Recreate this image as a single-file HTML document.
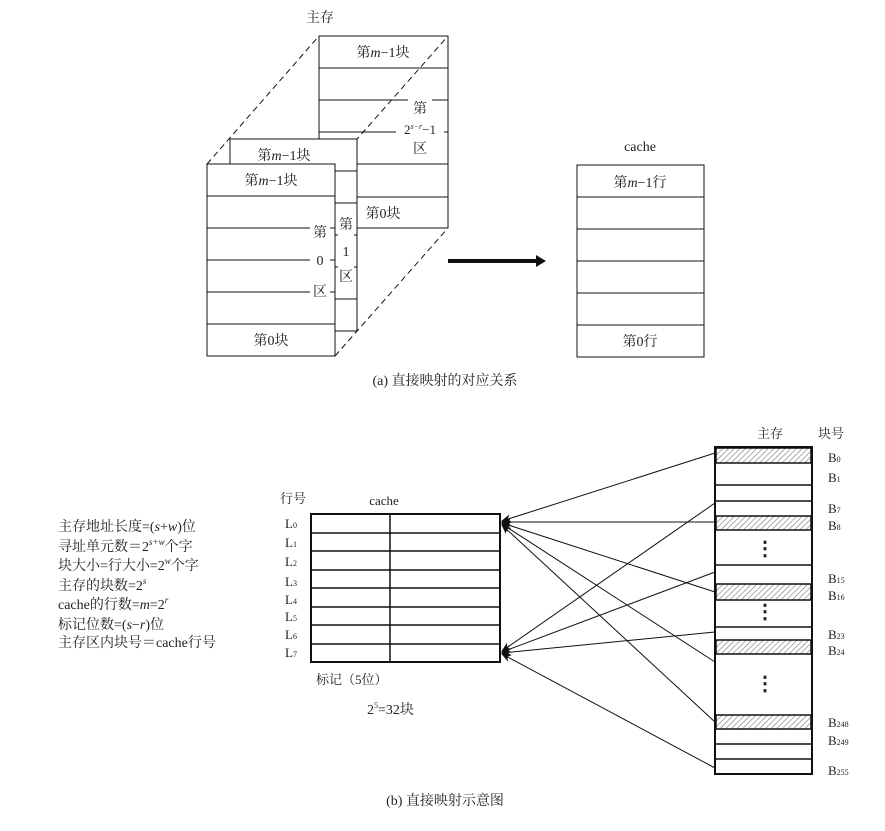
<!DOCTYPE html>
<html><head><meta charset="utf-8"><style>
body{margin:0;background:#fff}
svg text{font-family:"Liberation Serif","Noto Serif CJK SC","Noto Sans CJK SC",serif;fill:#222}
</style></head><body>
<svg width="885" height="826" viewBox="0 0 885 826" xmlns="http://www.w3.org/2000/svg">
<defs>
<pattern id="h" width="4" height="4" patternUnits="userSpaceOnUse" patternTransform="rotate(45)">
<rect width="4" height="4" fill="#fff"/><line x1="0" y1="0" x2="0" y2="4" stroke="#777" stroke-width="1.2"/></pattern>
<marker id="a" markerWidth="10" markerHeight="8" refX="9" refY="4" orient="auto" markerUnits="userSpaceOnUse">
<path d="M0,0 L10,4 L0,8 L3,4 z" fill="#111"/></marker>
</defs>
<g stroke="#111" fill="none" stroke-width="1">
<!-- back box -->
<rect x="319" y="36" width="129" height="192" fill="#fff"/>
<line x1="319" y1="68" x2="448" y2="68"/>
<line x1="319" y1="100" x2="408" y2="100"/><line x1="432" y1="100" x2="448" y2="100"/>
<line x1="319" y1="132" x2="396" y2="132"/><line x1="444" y1="132" x2="448" y2="132"/>
<line x1="319" y1="164" x2="448" y2="164"/>
<line x1="319" y1="197" x2="448" y2="197"/>
<!-- dashed -->
<g stroke-dasharray="6,4">
<line x1="207" y1="164" x2="319" y2="36"/>
<line x1="335" y1="164" x2="448" y2="36"/>
<line x1="335" y1="356" x2="448" y2="228"/>
</g>
<!-- middle box -->
<rect x="230" y="139" width="127" height="192" fill="#fff"/>
<line x1="335" y1="171" x2="357" y2="171"/><line x1="335" y1="203" x2="357" y2="203"/>
<line x1="335" y1="235" x2="338" y2="235"/><line x1="354" y1="235" x2="357" y2="235"/>
<line x1="335" y1="267" x2="338" y2="267"/><line x1="354" y1="267" x2="357" y2="267"/>
<line x1="335" y1="299" x2="357" y2="299"/>
<!-- front -->
<rect x="207" y="164" width="128" height="192" fill="#fff"/>
<line x1="207" y1="196" x2="335" y2="196"/>
<line x1="207" y1="228" x2="310" y2="228"/><line x1="330" y1="228" x2="335" y2="228"/>
<line x1="207" y1="260" x2="310" y2="260"/><line x1="330" y1="260" x2="335" y2="260"/>
<line x1="207" y1="292" x2="310" y2="292"/><line x1="330" y1="292" x2="335" y2="292"/>
<line x1="207" y1="324" x2="335" y2="324"/>
<!-- cache top -->
<rect x="577" y="165" width="127" height="192"/>
<line x1="577" y1="197" x2="704" y2="197"/><line x1="577" y1="229" x2="704" y2="229"/>
<line x1="577" y1="261" x2="704" y2="261"/><line x1="577" y1="293" x2="704" y2="293"/>
<line x1="577" y1="325" x2="704" y2="325"/>
</g>
<rect x="448" y="259" width="90" height="4" fill="#111"/>
<path d="M536,255 L546,261 L536,267 z" fill="#111"/>
<g font-size="14" text-anchor="middle">
<text x="320" y="22">主存</text>
<text x="383" y="57">第<tspan font-style="italic">m</tspan>−1块</text>
<text x="420" y="113">第</text>
<text x="420" y="134" font-size="13">2<tspan font-size="8" dy="-5" font-style="italic">s−r</tspan><tspan dy="5">−1</tspan></text>
<text x="420" y="153">区</text>
<text x="383" y="218">第0块</text>
<text x="284" y="160">第<tspan font-style="italic">m</tspan>−1块</text>
<text x="271" y="185">第<tspan font-style="italic">m</tspan>−1块</text>
<text x="320" y="237">第</text><text x="320" y="265">0</text><text x="320" y="296">区</text>
<text x="346" y="229">第</text><text x="346" y="256">1</text><text x="346" y="281">区</text>
<text x="271" y="345">第0块</text>
<text x="640" y="151">cache</text>
<text x="640" y="187">第<tspan font-style="italic">m</tspan>−1行</text>
<text x="640" y="346">第0行</text>
<text x="445" y="385">(a) 直接映射的对应关系</text>
<text x="445" y="805">(b) 直接映射示意图</text>
</g>
<!-- bottom cache -->
<g stroke="#111" fill="none">
<rect x="311" y="514" width="189" height="148" stroke-width="2"/>
<line x1="390" y1="514" x2="390" y2="662" stroke-width="1.5"/>
<g stroke-width="1.5">
<line x1="311" y1="533" x2="500" y2="533"/><line x1="311" y1="551" x2="500" y2="551"/>
<line x1="311" y1="570" x2="500" y2="570"/><line x1="311" y1="588" x2="500" y2="588"/>
<line x1="311" y1="607" x2="500" y2="607"/><line x1="311" y1="625" x2="500" y2="625"/>
<line x1="311" y1="644" x2="500" y2="644"/></g>
</g>
<g font-size="13">
<text x="280" y="503">行号</text>
<text x="384" y="505" text-anchor="middle">cache</text>
<text x="285" y="528">L<tspan font-size="8">0</tspan></text>
<text x="285" y="547">L<tspan font-size="8">1</tspan></text>
<text x="285" y="566">L<tspan font-size="8">2</tspan></text>
<text x="285" y="586">L<tspan font-size="8">3</tspan></text>
<text x="285" y="604">L<tspan font-size="8">4</tspan></text>
<text x="285" y="621">L<tspan font-size="8">5</tspan></text>
<text x="285" y="639">L<tspan font-size="8">6</tspan></text>
<text x="285" y="657">L<tspan font-size="8">7</tspan></text>
<text x="316" y="684">标记（5位）</text>
<text x="367" y="714" font-size="14">2<tspan font-size="8" dy="-6">5</tspan><tspan dy="6">=32块</tspan></text>
</g>
<g font-size="14">
<text x="58" y="531">主存地址长度=(<tspan font-style="italic">s</tspan>+<tspan font-style="italic">w</tspan>)位</text>
<text x="58" y="551">寻址单元数＝2<tspan font-size="9" dy="-6" font-style="italic">s+w</tspan><tspan dy="6">个字</tspan></text>
<text x="58" y="570">块大小=行大小=2<tspan font-size="9" dy="-6" font-style="italic">w</tspan><tspan dy="6">个字</tspan></text>
<text x="58" y="590">主存的块数=2<tspan font-size="9" dy="-6" font-style="italic">s</tspan></text>
<text x="58" y="609">cache的行数=<tspan font-style="italic">m</tspan>=2<tspan font-size="9" dy="-6" font-style="italic">r</tspan></text>
<text x="58" y="629">标记位数=(<tspan font-style="italic">s</tspan>−<tspan font-style="italic">r</tspan>)位</text>
<text x="58" y="647">主存区内块号＝cache行号</text>
</g>
<!-- memory -->
<g stroke="#111" stroke-width="1.5">
<rect x="715" y="447" width="97" height="327" fill="#fff" stroke-width="2"/>
<rect x="716" y="448" width="95" height="15" fill="url(#h)"/>
<rect x="716" y="516" width="95" height="14" fill="url(#h)"/>
<rect x="716" y="584" width="95" height="16" fill="url(#h)"/>
<rect x="716" y="640" width="95" height="14" fill="url(#h)"/>
<rect x="716" y="715" width="95" height="14" fill="url(#h)"/>
<line x1="715" y1="485" x2="812" y2="485"/><line x1="715" y1="501" x2="812" y2="501"/>
<line x1="715" y1="565" x2="812" y2="565"/><line x1="715" y1="627" x2="812" y2="627"/>
<line x1="715" y1="744" x2="812" y2="744"/><line x1="715" y1="759" x2="812" y2="759"/>
</g>
<g font-size="20" text-anchor="middle" font-weight="bold"><text x="765" y="555">⋮</text><text x="765" y="618">⋮</text><text x="765" y="690">⋮</text></g>
<g font-size="13">
<text x="757" y="438">主存</text><text x="818" y="438">块号</text>
<text x="828" y="462">B<tspan font-size="8">0</tspan></text>
<text x="828" y="482">B<tspan font-size="8">1</tspan></text>
<text x="828" y="513">B<tspan font-size="8">7</tspan></text>
<text x="828" y="530">B<tspan font-size="8">8</tspan></text>
<text x="828" y="583">B<tspan font-size="8">15</tspan></text>
<text x="828" y="600">B<tspan font-size="8">16</tspan></text>
<text x="828" y="639">B<tspan font-size="8">23</tspan></text>
<text x="828" y="655">B<tspan font-size="8">24</tspan></text>
<text x="828" y="727">B<tspan font-size="8">248</tspan></text>
<text x="828" y="745">B<tspan font-size="8">249</tspan></text>
<text x="828" y="775">B<tspan font-size="8">255</tspan></text>
</g>
<g stroke="#111" stroke-width="1" marker-end="url(#a)">
<line x1="715" y1="453" x2="502" y2="521"/>
<line x1="715" y1="522" x2="502" y2="522"/>
<line x1="715" y1="592" x2="502" y2="523"/>
<line x1="715" y1="662" x2="502" y2="524"/>
<line x1="715" y1="722" x2="502" y2="525"/>
<line x1="715" y1="503" x2="502" y2="651"/>
<line x1="715" y1="572" x2="502" y2="652"/>
<line x1="715" y1="632" x2="502" y2="653"/>
<line x1="715" y1="768" x2="502" y2="654"/>
</g>
</svg>
</body></html>
